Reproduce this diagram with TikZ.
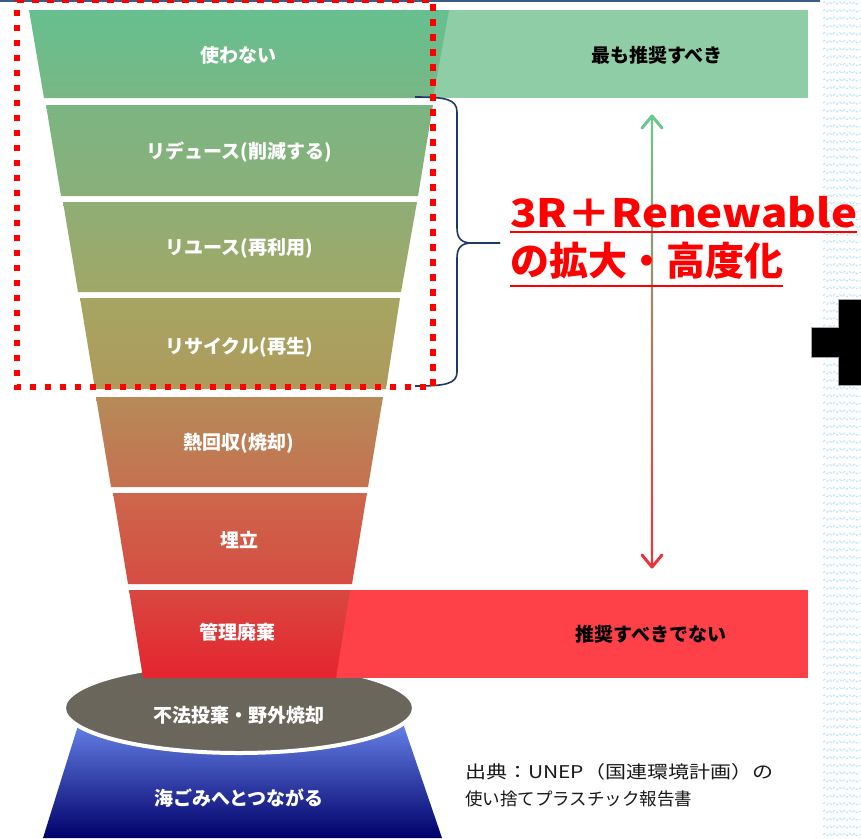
\documentclass[tikz,border=0pt]{standalone}
\usepackage{fontspec}
\usepackage{graphicx}
\newfontfamily\jp{Noto Sans CJK JP}
\usetikzlibrary{decorations.pathmorphing}
\definecolor{sOneT}{HTML}{66BF8F}\definecolor{sOneB}{HTML}{78B785}
\definecolor{sTwoT}{HTML}{7BB582}\definecolor{sTwoB}{HTML}{8AAF79}
\definecolor{sThrT}{HTML}{8FAE75}\definecolor{sThrB}{HTML}{A0A767}
\definecolor{sFouT}{HTML}{A6A563}\definecolor{sFouB}{HTML}{AF9A5B}
\definecolor{sFivT}{HTML}{B68B58}\definecolor{sFivB}{HTML}{C6704F}
\definecolor{sSixT}{HTML}{CC674C}\definecolor{sSixB}{HTML}{D64D42}
\definecolor{sSevT}{HTML}{D84840}\definecolor{sSevB}{HTML}{E6242F}
\definecolor{greenband}{HTML}{8FCDA6}
\definecolor{redband}{HTML}{FE4049}
\definecolor{ellgray}{HTML}{6B665B}
\definecolor{blueT}{HTML}{7A9BFF}\definecolor{blueM}{HTML}{3B48C2}\definecolor{blueB}{HTML}{00006A}
\definecolor{arrG}{HTML}{6CC48E}\definecolor{arrM}{HTML}{92A872}\definecolor{arrR}{HTML}{E8363C}
\definecolor{bracecol}{HTML}{1F3864}
\definecolor{topline}{HTML}{3A5A8C}
\definecolor{patcol}{HTML}{BFE3FA}
\tikzset{
  lbl/.style={font=\jp\fontsize{19}{22}\selectfont\bfseries, text=white, inner sep=0pt},
  bandlbl/.style={font=\jp\fontsize{19}{22}\selectfont\bfseries, text=black, inner sep=0pt},
  big/.style={font=\jp\fontsize{39}{44}\selectfont\bfseries, text=red, inner sep=0pt},
  src/.style={font=\jp\fontsize{17.5}{20}\selectfont, text=black!90, inner sep=0pt},
  ul/.style={draw=red, line width=2.5pt},
  bracestyle/.style={draw=bracecol, line width=1.6pt},
  dotrect/.style={draw=red, line width=6.5pt, dash pattern=on 6.5pt off 8.5pt},
  pat/.style={draw=patcol, line width=0.9pt, dash pattern=on 3pt off 1.5pt, decorate, decoration={snake, amplitude=1.2pt, segment length=5pt}},
  chev/.style={line width=3pt, line cap=round, line join=round}
}
\begin{document}
\begin{tikzpicture}[x=1pt,y=-1pt]
\useasboundingbox (0,0) rectangle (861,838);
\fill[white] (0,0) rectangle (861,838);
% right pattern strip
\foreach \yy in {3,10.7,...,838} \draw[pat] (823,\yy) -- (861,\yy);
% top line
\draw[topline, line width=2pt] (0,1) -- (820,1);
% bottom: blue trapezoid and ellipse
\shade[top color=blueT, middle color=blueM, bottom color=blueB] (86,700) -- (395,700) -- (442,838) -- (43,838) -- cycle;
\draw[white, line width=4pt, fill=ellgray] (239,708) ellipse [x radius=175, y radius=45];
% bands
\fill[greenband] (250,10) rectangle (808,98);
\fill[redband] (250,590) rectangle (808,678);
% funnel
\shade[top color=sOneT, bottom color=sOneB] (29,10) -- (449,10) -- (433,98) -- (44,98) -- cycle;
\shade[top color=sTwoT, bottom color=sTwoB] (46,105) -- (433,105) -- (418,196) -- (61,196) -- cycle;
\shade[top color=sThrT, bottom color=sThrB] (63,202) -- (417,202) -- (401,292) -- (78,292) -- cycle;
\shade[top color=sFouT, bottom color=sFouB] (80,298) -- (400,298) -- (386,389) -- (95,389) -- cycle;
\shade[top color=sFivT, bottom color=sFivB] (96,397) -- (383,397) -- (368,487) -- (111,487) -- cycle;
\shade[top color=sSixT, bottom color=sSixB] (113,493) -- (367,493) -- (352,584) -- (128,584) -- cycle;
\shade[top color=sSevT, bottom color=sSevB] (129,590) -- (350,590) -- (336,678) -- (143,678) -- cycle;
% brace
\coordinate (brtop) at (415,97);
\coordinate (brtip) at (500,243);
\coordinate (brbot) at (415,386);
\draw[bracestyle] (brtop) .. controls (445,97) and (457,99) .. (457,112) -- (457,228) .. controls (457,239) and (462,243) .. (472,243) -- (brtip);
\draw[bracestyle] (brtip) -- (472,243) .. controls (462,243) and (457,247) .. (457,258) -- (457,372) .. controls (457,384) and (445,386) .. (brbot);
% dotted red rectangle
\draw[dotrect] (17,0) -- (433,0) -- (433,387) -- (17,387) -- cycle;
% vertical double arrow
\coordinate (atop) at (652,116);
\coordinate (abot) at (652,567);
\shade[top color=arrG, middle color=arrM, bottom color=arrR] (650.8,117) rectangle (653.2,566);
\draw[chev, arrG] (642,128) -- (atop) -- (662,128);
\draw[chev, arrR] (642,555) -- (abot) -- (662,555);
% funnel labels
\node[lbl] (l1) at (238,55) {使わない};
\node[lbl] (l2) at (239,152) {リデュース(削減する)};
\node[lbl] (l3) at (239,248) {リユース(再利用)};
\node[lbl] (l4) at (239,347) {リサイクル(再生)};
\node[lbl] (l5) at (239,443) {熱回収(焼却)};
\node[lbl] (l6) at (239,540) {埋立};
\node[lbl] (l7) at (237,632) {管理廃棄};
\node[lbl] (l8) at (239,715) {不法投棄・野外焼却};
\node[lbl] (l9) at (239,798) {海ごみへとつながる};
% band labels
\node[bandlbl] (b1) at (657,55) {最も推奨すべき};
\node[bandlbl] (b2) at (651,634) {推奨すべきでない};
% big red text
\node[big, anchor=west] (t1) at (510,212) {\resizebox{347pt}{\height}{3R＋Renewable}};
\node[big, anchor=west] (t2) at (510,261) {の拡大・高度化};
\draw[ul] (510,232) -- (857,232);
\draw[ul] (510,286) -- (783,286);
% source
\node[src, anchor=west] (s1) at (465,772) {\resizebox{308pt}{\height}{出典：UNEP（国連環境計画）の}};
\node[src, anchor=west] (s2) at (465,799) {使い捨てプラスチック報告書};
% cross
\filldraw[fill=black, draw=gray!70, line width=0.8pt] (811,327) -- (838,327) -- (838,299) -- (875,299) -- (875,385) -- (838,385) -- (838,357) -- (811,357) -- cycle;
\end{tikzpicture}
\end{document}
